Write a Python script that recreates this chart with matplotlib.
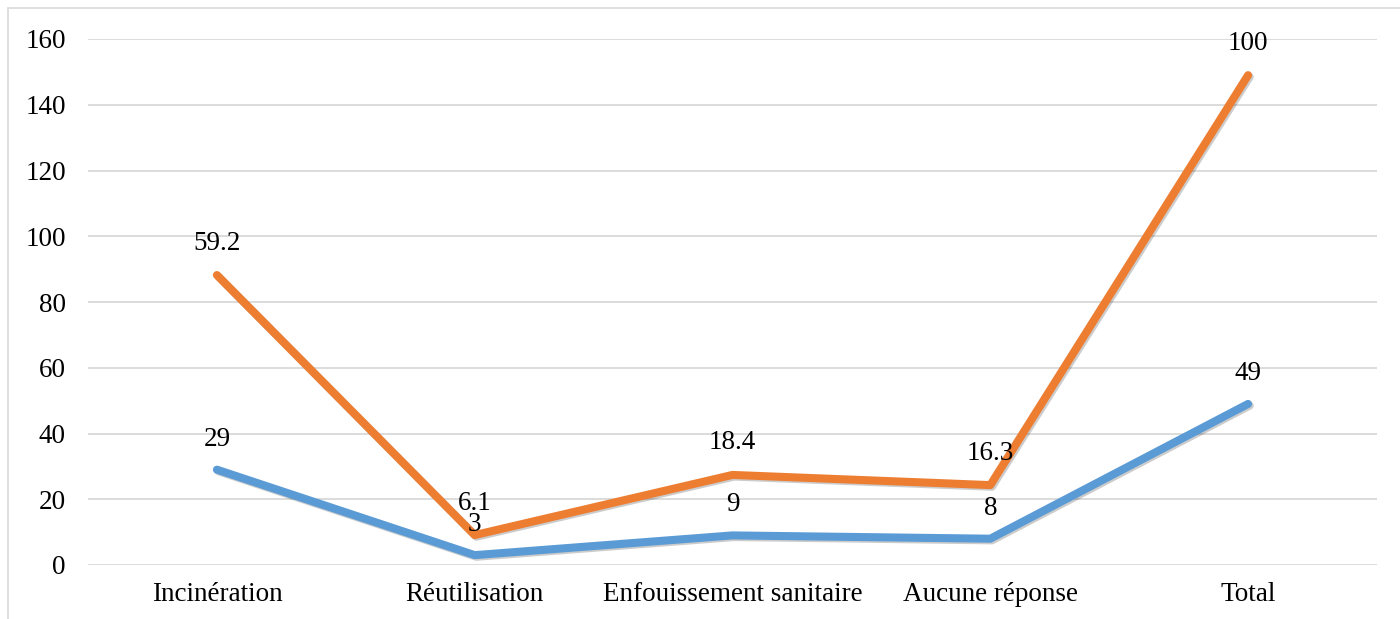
import matplotlib.pyplot as plt
import matplotlib.patheffects as pe
from matplotlib.patches import Rectangle

categories = ['Incinération', 'Réutilisation', 'Enfouissement sanitaire', 'Aucune réponse', 'Total']
effectif = [29, 3, 9, 8, 49]
pourcentage = [59.2, 6.1, 18.4, 16.3, 100]

# stacked line chart: orange sits on top of blue
cumul = [a + b for a, b in zip(effectif, pourcentage)]

plt.rcParams['font.family'] = ['Liberation Serif', 'DejaVu Serif']

fig = plt.figure(figsize=(14, 6.19), dpi=100)
ax = fig.add_axes([88 / 1400, 1 - 565 / 619, (1377 - 88) / 1400, (565 - 39) / 619])

# light frame around chart area
fig.patches.append(Rectangle((8 / 1400, -0.1), 1.2, 1 - 8 / 619 + 0.1, transform=fig.transFigure,
                             fill=False, edgecolor='#d9d9d9', linewidth=1.2))

x = list(range(len(categories)))
shadow = [pe.SimpleLineShadow(offset=(1.2, -1.2), shadow_color='#000000', alpha=0.2), pe.Normal()]

ax.plot(x, effectif, color='#5b9bd5', linewidth=5.8, solid_capstyle='round',
        solid_joinstyle='round', path_effects=shadow, zorder=3)
ax.plot(x, cumul, color='#ed7d31', linewidth=5.8, solid_capstyle='round',
        solid_joinstyle='round', path_effects=shadow, zorder=3)

fs = 19.5
for xi, yv, lab in zip(x, effectif, effectif):
    ax.annotate(f'{lab:g}', (xi, yv), xytext=(0, 22), textcoords='offset points',
                ha='center', va='center', fontsize=fs, color='black', zorder=4)
for xi, yv, lab in zip(x, cumul, pourcentage):
    ax.annotate(f'{lab:g}', (xi, yv), xytext=(0, 23), textcoords='offset points',
                ha='center', va='center', fontsize=fs, color='black', zorder=4)

ax.set_xlim(-0.5, len(categories) - 0.5)
ax.set_ylim(0, 160)
ax.set_yticks(range(0, 161, 20))
ax.set_xticks(x)
ax.set_xticklabels(categories)
ax.tick_params(axis='both', length=0, labelsize=fs, colors='black')
ax.tick_params(axis='y', pad=16)
ax.tick_params(axis='x', pad=12)
ax.grid(axis='y', color='#d9d9d9', linewidth=1.3)
ax.set_axisbelow(True)
for s in ax.spines.values():
    s.set_visible(False)

fig.savefig('out.png', dpi=100)
